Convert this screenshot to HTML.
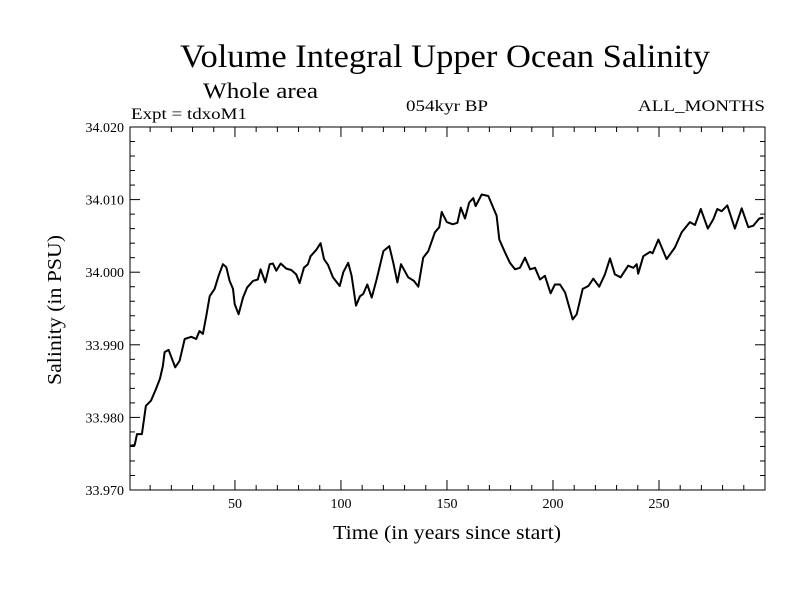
<!DOCTYPE html>
<html><head><meta charset="utf-8"><style>
body{margin:0;background:#fff;}
svg text{font-family:"Liberation Serif",serif;fill:#000;}
</style></head><body>
<svg id="chart" width="800" height="600" viewBox="0 0 800 600" xmlns="http://www.w3.org/2000/svg">
<rect width="800" height="600" fill="#fff"/>
<text x="180" y="67" font-size="33" textLength="530" lengthAdjust="spacingAndGlyphs">Volume Integral Upper Ocean Salinity</text>
<text x="203" y="98" font-size="22" textLength="115" lengthAdjust="spacingAndGlyphs">Whole area</text>
<text x="131" y="119" font-size="16" textLength="116" lengthAdjust="spacingAndGlyphs">Expt = tdxoM1</text>
<text x="406" y="111" font-size="16" textLength="82" lengthAdjust="spacingAndGlyphs">054kyr BP</text>
<text x="638" y="111" font-size="16" textLength="127" lengthAdjust="spacingAndGlyphs">ALL_MONTHS</text>
<text x="333" y="539" font-size="20" textLength="228" lengthAdjust="spacingAndGlyphs">Time (in years since start)</text>
<text transform="translate(61,385) rotate(-90)" font-size="20" textLength="150" lengthAdjust="spacingAndGlyphs">Salinity (in PSU)</text>
<g id="axes"></g>
<rect x="130" y="127" width="635" height="363" fill="none" stroke="#000" stroke-width="1"/>
<path id="line" fill="none" stroke="#000" stroke-width="2" stroke-linejoin="round"/>
</svg>
<script>
const years=[0.8,2.7,3.8,6.1,8.0,10.4,12.7,14.6,16.0,16.8,18.7,21.8,23.9,26.3,29.4,31.7,33.3,34.9,36.5,38.1,40.4,42.3,44.3,45.9,47.5,49.1,49.9,51.7,53.8,55.8,58.5,60.8,62.1,64.3,66.4,67.9,69.5,71.6,74.2,76.6,78.9,80.5,82.5,84.4,85.7,88.4,90.4,92.0,93.9,96.2,99.4,101.1,103.4,105.0,107.1,109.0,110.5,112.4,114.5,116.8,120.0,122.8,124.7,126.6,128.3,131.7,134.4,136.5,138.8,141.2,144.3,146.4,147.5,149.9,152.7,154.9,156.5,158.5,160.5,162.4,163.5,166.4,169.5,171.8,173.4,174.7,177.4,179.7,182.1,184.4,186.8,189.2,191.5,193.9,196.2,198.9,200.9,203.3,205.7,209.3,211.2,214.0,216.7,219.0,221.8,224.5,226.9,229.2,231.9,235.5,237.9,239.5,240.2,242.6,245.8,247.0,249.7,253.6,257.5,260.7,264.6,267.0,269.7,273.0,275.6,277.5,279.6,282.2,285.8,289.0,292.1,294.5,297.3,299.2];
const salinity=[33.9761,33.9762,33.9777,33.9777,33.9816,33.9823,33.9839,33.9853,33.9871,33.9890,33.9893,33.9869,33.9878,33.9908,33.9911,33.9908,33.9919,33.9915,33.9940,33.9967,33.9977,33.9995,34.0011,34.0007,33.9988,33.9977,33.9956,33.9942,33.9965,33.9979,33.9988,33.9990,34.0004,33.9986,34.0011,34.0012,34.0002,34.0012,34.0005,34.0003,33.9997,33.9985,34.0006,34.0011,34.0022,34.0031,34.0040,34.0018,34.0010,33.9993,33.9981,34.0000,34.0013,33.9995,33.9954,33.9967,33.9970,33.9983,33.9965,33.9990,34.0029,34.0036,34.0013,33.9986,34.0011,33.9993,33.9988,33.9980,34.0020,34.0029,34.0055,34.0062,34.0083,34.0069,34.0066,34.0068,34.0089,34.0074,34.0096,34.0102,34.0091,34.0107,34.0105,34.0089,34.0078,34.0045,34.0027,34.0013,34.0004,34.0006,34.0020,34.0004,34.0006,33.9990,33.9995,33.9971,33.9983,33.9983,33.9972,33.9935,33.9942,33.9977,33.9981,33.9991,33.9980,33.9997,34.0019,33.9997,33.9993,34.0009,34.0006,34.0011,33.9998,34.0022,34.0028,34.0026,34.0045,34.0018,34.0034,34.0055,34.0069,34.0065,34.0087,34.0060,34.0073,34.0087,34.0084,34.0092,34.0060,34.0088,34.0062,34.0064,34.0074,34.0075];
const xTicks=[50,100,150,200,250];
const yTicks=["33.970","33.980","33.990","34.000","34.010","34.020"];
const X0=0.5,X1=300,Y0=33.970,Y1=34.020;
const L=130,R=765,T=127,B=490;
function sx(v){return L+(v-X0)/(X1-X0)*(R-L);}
function sy(v){return B-(v-Y0)/(Y1-Y0)*(B-T);}
const NS="http://www.w3.org/2000/svg";
const g=document.getElementById('axes');
function line(x1,y1,x2,y2,name){const l=document.createElementNS(NS,'line');l.setAttribute('x1',x1);l.setAttribute('y1',y1);l.setAttribute('x2',x2);l.setAttribute('y2',y2);l.setAttribute('stroke','#000');


g.appendChild(l);}
function text(x,y,s,anchor,name){const t=document.createElementNS(NS,'text');t.setAttribute('x',x);t.setAttribute('y',y);t.setAttribute('font-size','14');t.setAttribute('text-anchor',anchor);t.textContent=s;


g.appendChild(t);}
for(let v=10;v<=300;v+=10){const x=sx(v);const major=v%50===0;const len=major?10:5;line(x,B,x,B-len,'x-tick');line(x,T,x,T+len,'x-tick-top');}
xTicks.forEach(v=>text(sx(v),B+18,String(v),'middle','x-tick-label'));
for(let i=0;i<=25;i++){const v=Y0+i*0.002;const y=sy(v);const major=i%5===0;const len=major?10:5;line(L,y,L+len,y,'y-tick');line(R,y,R-len,y,'y-tick-right');}
yTicks.forEach(s=>text(L-6,sy(parseFloat(s))+5,s,'end','y-tick-label'));
let d='';years.forEach((yr,i)=>{d+=(i?'L':'M')+sx(yr).toFixed(1)+','+sy(salinity[i]).toFixed(1);});
document.getElementById('line').setAttribute('d',d);
</script>
</body></html>
